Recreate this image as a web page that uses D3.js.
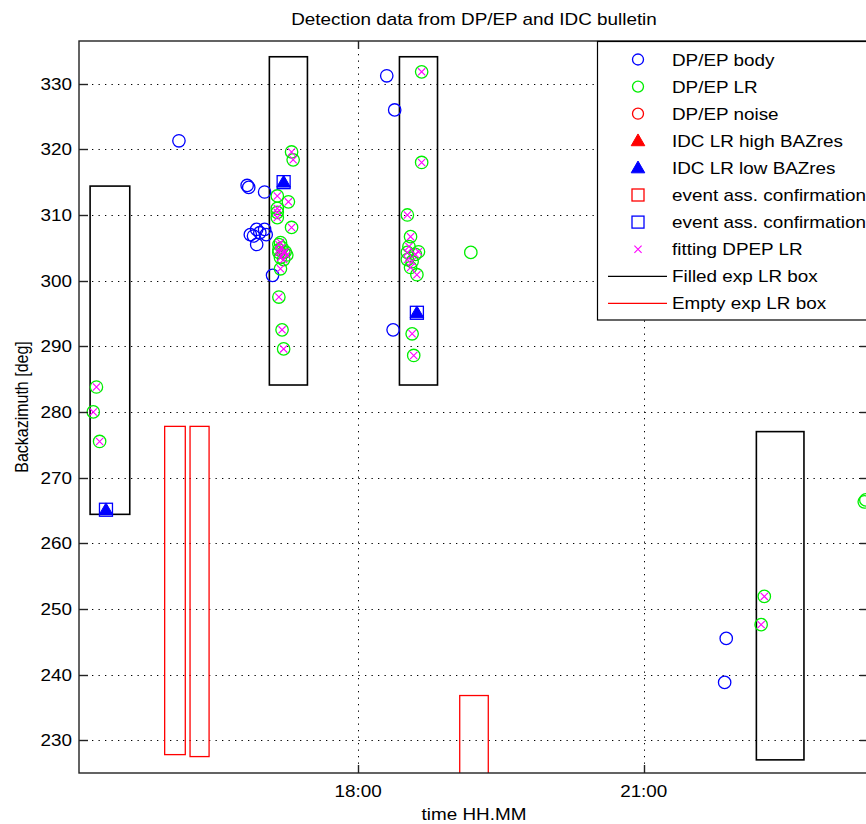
<!DOCTYPE html>
<html>
<head>
<meta charset="utf-8">
<script src="https://cdn.jsdelivr.net/npm/d3@7"></script>
<style>
  html, body { margin: 0; padding: 0; background: #fff; }
  svg { display: block; }
  text { font-family: "Liberation Sans", Arial, sans-serif; font-size: 16px; fill: #000; }
</style>
</head>
<body>
<script>
// ---- data (time as "HH:MM", backazimuth in degrees) ----
const dpepBody = [
  ["16:07", 321.3], ["16:50", 314.5], ["16:51", 314.2], ["17:01", 313.5],
  ["16:52", 307.0], ["16:56", 307.8], ["17:01", 307.8], ["16:56", 305.5],
  ["17:02", 307.0], ["16:54", 306.8], ["16:58", 307.3], ["17:06", 300.8],
  ["18:18", 331.2], ["18:23", 326.0], ["18:22", 292.5],
  ["21:52", 245.5], ["21:51", 238.8]
];

// third field: 1 when the detection fits an expected LR box
const dpepLR = [
  ["15:15", 283.8, 1], ["15:13", 280.0, 1], ["15:17", 275.5, 1],
  ["17:18", 319.6, 1], ["17:19", 318.4, 1], ["17:09", 312.9, 1], ["17:16", 312.0, 1],
  ["17:09", 311.0, 1], ["17:09", 310.4, 1], ["17:09", 309.6, 1], ["17:18", 308.1, 1],
  ["17:10", 305.5, 1], ["17:12", 305.0, 1], ["17:14", 304.4, 1], ["17:10", 304.3, 1],
  ["17:15", 303.9, 1], ["17:11", 303.5, 1], ["17:13", 304.3, 1], ["17:10", 304.7, 1],
  ["17:13", 303.2, 1], ["17:11", 305.8, 1], ["17:11", 301.8, 1], ["17:10", 297.5, 1],
  ["17:12", 292.5, 1], ["17:13", 289.6, 1],
  ["18:40", 331.8, 1], ["18:40", 318.0, 1], ["18:31", 310.0, 1], ["18:33", 306.7, 1],
  ["18:32", 305.2, 1], ["18:31", 304.3, 1], ["18:36", 304.0, 1], ["18:38", 304.4, 1],
  ["18:31", 303.2, 1], ["18:34", 302.9, 1], ["18:33", 302.0, 1], ["18:37", 300.9, 1],
  ["18:34", 291.9, 1], ["18:35", 288.6, 1],
  ["19:11", 304.3, 0], ["23:20", 266.6, 0], ["23:19", 266.3, 0],
  ["22:16", 251.9, 1], ["22:14", 247.6, 1]
];

const dpepNoise = [];
const idcHighRes = [];
const idcLowRes = [["15:21", 265.1], ["17:13", 315.0], ["18:37", 295.1]];
const confirmRed = [];
const confirmBlue = [["15:21", 265.1], ["17:13", 315.0], ["18:37", 295.1]];

// expected LR boxes: [start, end, min backazimuth, max backazimuth]
const filledBoxes = [
  ["15:11", "15:36", 264.4, 314.4],
  ["17:04", "17:28", 284.1, 334.1],
  ["18:26", "18:50", 284.1, 334.1],
  ["22:11", "22:41", 227.0, 277.0]
];
const emptyBoxes = [
  ["15:58", "16:11", 227.8, 277.8],
  ["16:14", "16:26", 227.5, 277.8],
  ["19:04", "19:22", 186.8, 236.8]
];

const xTickLabels = ["18:00", "21:00"];
const yTickValues = [230, 240, 250, 260, 270, 280, 290, 300, 310, 320, 330];
const legendLabels = [
  "DP/EP body", "DP/EP LR", "DP/EP noise", "IDC LR high BAZres", "IDC LR low BAZres",
  "event ass. confirmation", "event ass. confirmation", "fitting DPEP LR",
  "Filled exp LR box", "Empty exp LR box"
];

// ---- helpers ----
const toMin = s => { const [h, m] = s.split(":").map(Number); return h * 60 + m; };
const SX = 1.18; // horizontal text stretch

const W = 866, H = 824;
const margin = { left: 79, top: 41, right: 869, bottom: 773 };

const x = d3.scaleLinear().domain([904, 1402]).range([margin.left, margin.right]);
const y = d3.scaleLinear().domain([225, 336.5]).range([margin.bottom, margin.top]);

const svg = d3.select("body").append("svg").attr("width", W).attr("height", H);

function label(parent, px, py, str, anchor, rot) {
  const g = parent.append("g")
    .attr("transform", `translate(${px},${py}) scale(${SX},1)` + (rot ? ` rotate(${rot})` : ""));
  g.append("text").attr("text-anchor", anchor || "start").text(str);
  return g;
}

svg.append("defs").append("clipPath").attr("id", "plotclip")
  .append("rect")
  .attr("x", margin.left).attr("y", margin.top)
  .attr("width", margin.right - margin.left).attr("height", margin.bottom - margin.top);

// ---- grid ----
const grid = svg.append("g").attr("stroke", "#000").attr("stroke-width", 1)
  .attr("stroke-dasharray", "1.3,5.2");
grid.selectAll("line.gy").data(yTickValues).join("line")
  .attr("x1", margin.left).attr("x2", margin.right)
  .attr("y1", d => Math.round(y(d)) + 0.5).attr("y2", d => Math.round(y(d)) + 0.5);
grid.selectAll("line.gx").data(xTickLabels).join("line")
  .attr("x1", d => Math.round(x(toMin(d))) + 0.5).attr("x2", d => Math.round(x(toMin(d))) + 0.5)
  .attr("y1", margin.top).attr("y2", margin.bottom);

// ---- plot content ----
const plot = svg.append("g").attr("clip-path", "url(#plotclip)");

function drawBoxes(data, color, width) {
  plot.append("g").selectAll("rect").data(data).join("rect")
    .attr("x", d => x(toMin(d[0])))
    .attr("y", d => y(d[3]))
    .attr("width", d => x(toMin(d[1])) - x(toMin(d[0])))
    .attr("height", d => y(d[2]) - y(d[3]))
    .attr("fill", "none").attr("stroke", color).attr("stroke-width", width);
}
drawBoxes(filledBoxes, "#000", 1.6);
drawBoxes(emptyBoxes, "#ff0000", 1.3);

const R = 6.2;
function drawCircles(data, color) {
  plot.append("g").selectAll("circle").data(data).join("circle")
    .attr("cx", d => x(toMin(d[0]))).attr("cy", d => y(d[1])).attr("r", R)
    .attr("fill", "none").attr("stroke", color).attr("stroke-width", 1.3);
}
drawCircles(dpepBody, "#0000ff");
drawCircles(dpepLR, "#00ee00");
drawCircles(dpepNoise, "#ff0000");

const tri = d3.symbol().type(d3.symbolTriangle).size(80);
function drawTriangles(data, color) {
  plot.append("g").selectAll("path").data(data).join("path")
    .attr("transform", d => `translate(${x(toMin(d[0]))},${y(d[1]) + 1})`)
    .attr("d", tri).attr("fill", color).attr("stroke", color);
}
drawTriangles(idcHighRes, "#ff0000");
drawTriangles(idcLowRes, "#0000ff");

function drawSquares(data, color) {
  plot.append("g").selectAll("rect").data(data).join("rect")
    .attr("x", d => x(toMin(d[0])) - 6.5).attr("y", d => y(d[1]) - 6.5)
    .attr("width", 13).attr("height", 13)
    .attr("fill", "none").attr("stroke", color).attr("stroke-width", 1.3);
}
drawSquares(confirmRed, "#ff0000");
drawSquares(confirmBlue, "#0000ff");

const XS = 3.6;
const crossPath = `M${-XS},${-XS}L${XS},${XS}M${-XS},${XS}L${XS},${-XS}`;
plot.append("g").selectAll("path").data(dpepLR.filter(d => d[2] === 1)).join("path")
  .attr("transform", d => `translate(${x(toMin(d[0]))},${y(d[1])})`)
  .attr("d", crossPath).attr("fill", "none").attr("stroke", "#ff00ff").attr("stroke-width", 1.1);

// ---- axes frame and ticks ----
const frame = svg.append("g").attr("stroke", "#222").attr("stroke-width", 1.4);
frame.append("rect")
  .attr("x", margin.left).attr("y", margin.top)
  .attr("width", margin.right - margin.left).attr("height", margin.bottom - margin.top)
  .attr("fill", "none");
yTickValues.forEach(v => {
  const yy = Math.round(y(v)) + 0.5;
  frame.append("line").attr("x1", margin.left).attr("x2", margin.left + 9).attr("y1", yy).attr("y2", yy);
  frame.append("line").attr("x1", margin.right).attr("x2", margin.right - 9).attr("y1", yy).attr("y2", yy);
});
xTickLabels.forEach(t => {
  const xx = Math.round(x(toMin(t))) + 0.5;
  frame.append("line").attr("x1", xx).attr("x2", xx).attr("y1", margin.bottom).attr("y2", margin.bottom - 8);
  frame.append("line").attr("x1", xx).attr("x2", xx).attr("y1", margin.top).attr("y2", margin.top + 8);
});

// tick labels
yTickValues.forEach(v => label(svg, 72, y(v) + 6, String(v), "end"));
xTickLabels.forEach(t => label(svg, x(toMin(t)), 797, t, "middle"));

// titles
label(svg, (margin.left + margin.right) / 2, 25, "Detection data from DP/EP and IDC bulletin", "middle");
label(svg, (margin.left + margin.right) / 2, 820, "time HH.MM", "middle");
label(svg, 27.5, (margin.top + margin.bottom) / 2, "Backazimuth [deg]", "middle", -90);

// ---- legend ----
const lg = svg.append("g");
lg.append("rect").attr("x", 597.5).attr("y", 41.5).attr("width", 300).attr("height", 278.5)
  .attr("fill", "#fff").attr("stroke", "#000").attr("stroke-width", 1.2);
const rowY = i => 59.5 + i * 27.1;
const mx = 638;
legendLabels.forEach((t, i) => label(lg, 672, rowY(i) + 6, t, "start"));
[["#0000ff", 0], ["#00ee00", 1], ["#ff0000", 2]].forEach(([c, i]) =>
  lg.append("circle").attr("cx", mx).attr("cy", rowY(i)).attr("r", 5.5)
    .attr("fill", "none").attr("stroke", c).attr("stroke-width", 1.3));
[["#ff0000", 3], ["#0000ff", 4]].forEach(([c, i]) =>
  lg.append("path").attr("transform", `translate(${mx},${rowY(i) + 1})`).attr("d", tri)
    .attr("fill", c).attr("stroke", c));
[["#ff0000", 5], ["#0000ff", 6]].forEach(([c, i]) =>
  lg.append("rect").attr("x", mx - 6).attr("y", rowY(i) - 6).attr("width", 12).attr("height", 12)
    .attr("fill", "none").attr("stroke", c).attr("stroke-width", 1.3));
lg.append("path").attr("transform", `translate(${mx},${rowY(7)})`).attr("d", crossPath)
  .attr("stroke", "#ff00ff").attr("stroke-width", 1.1);
[["#000", 8], ["#ff0000", 9]].forEach(([c, i]) =>
  lg.append("line").attr("x1", 608).attr("x2", 667).attr("y1", rowY(i)).attr("y2", rowY(i))
    .attr("stroke", c).attr("stroke-width", 1.2));
</script>
</body>
</html>
